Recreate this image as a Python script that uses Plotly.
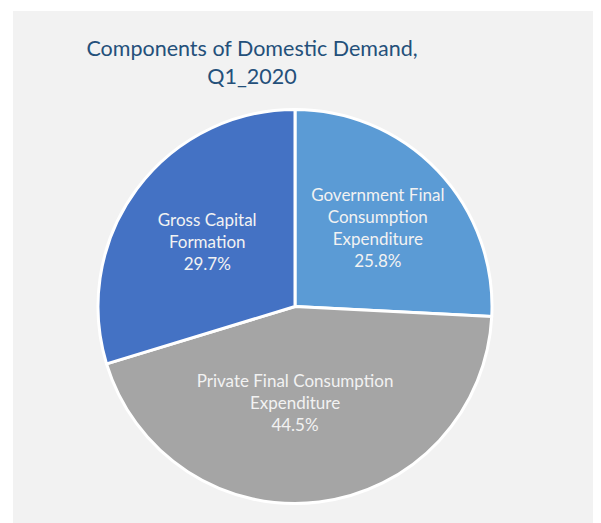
import plotly.graph_objects as go

categories = [
    "Government Final<br>Consumption<br>Expenditure",
    "Private Final Consumption<br>Expenditure",
    "Gross Capital<br>Formation",
]
shares = [25.8, 44.5, 29.7]
colors = ["#5B9BD5", "#A5A5A5", "#4472C4"]

W, H = 601, 523
OFF = 8  # page body margin offset in the browser
cx, cy, r = 295 - OFF, 306.5 - OFF, 197

fig = go.Figure(go.Pie(
    labels=categories,
    values=shares,
    sort=False,
    direction="clockwise",
    rotation=0,
    marker=dict(colors=colors, line=dict(color="white", width=3)),
    texttemplate="%{label}<br>%{value:.1f}%",
    textposition="inside",
    insidetextorientation="horizontal",
    textfont=dict(family="Lato", size=17, color="#F2F2F2"),
    hoverinfo="skip",
    showlegend=False,
    domain=dict(x=[(cx - r) / W, (cx + r) / W],
                y=[(H - cy - r) / H, (H - cy + r) / H]),
))

fig.update_layout(
    width=W, height=H,
    margin=dict(l=0, r=0, t=0, b=0),
    paper_bgcolor="white",
    title=dict(
        text="Components of Domestic Demand,<br>Q1_2020",
        x=(252 - OFF) / W, xanchor="center",
        y=1 - 48 / H, yanchor="top",
        font=dict(family="Lato", size=21.5, color="#24507A"),
    ),
    shapes=[dict(type="rect", xref="paper", yref="paper",
                 x0=(13 - OFF) / W, x1=1, y0=0, y1=1 - (11 - OFF) / H,
                 fillcolor="#F2F2F2", line=dict(width=0), layer="below")],
)

fig.write_html("out.html")
